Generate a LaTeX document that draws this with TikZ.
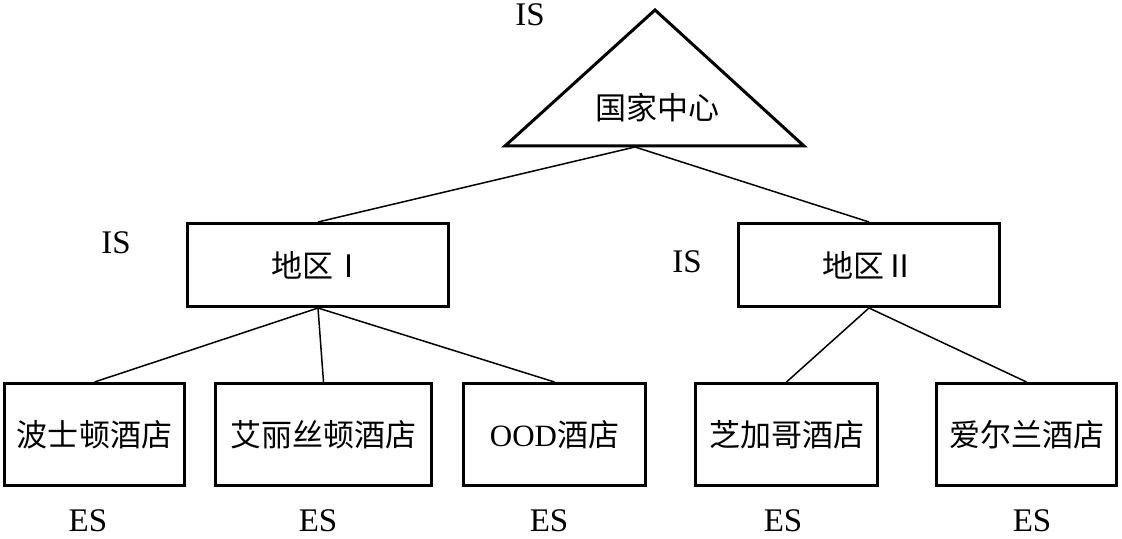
\documentclass[tikz,border=0pt]{standalone}
\usepackage{fontspec}
\setmainfont{Liberation Serif}
\newfontfamily\cjk{Noto Sans CJK SC}
\usetikzlibrary{positioning}

\begin{document}
\begin{tikzpicture}[
    x=0.5pt, y=-0.5pt,
    box/.style={draw, line width=1.5pt, inner sep=0pt, font=\fontsize{15.5}{18}\selectfont\cjk},
    region/.style={box, minimum width=130.5pt, minimum height=41.5pt},
    hotel/.style={box, minimum height=51pt},
    tag/.style={font=\fontsize{16.5}{19}\selectfont, inner sep=0pt},
    link/.style={line width=0.75pt},
]
\useasboundingbox (0,0) rectangle (1122,539);

% =============================================================================
% National centre (triangle)
% =============================================================================
\coordinate (apex) at (655,10);
\coordinate (bl) at (505,146);
\coordinate (br) at (804,146);
\draw[line width=1.5pt, line join=miter] (apex) -- (bl) -- (br) -- cycle;
\node[font=\fontsize{15.5}{18}\selectfont\cjk] (nc) at (657,108) {国家中心};
\coordinate (ncb) at (635,147);
\node[tag] (is0) at (530,15) {IS};

% =============================================================================
% Regions
% =============================================================================
\node[region] (r1) at (318,265) {地区Ⅰ};
\node[region] (r2) at (869,265) {地区Ⅱ};
\node[tag] (is1) at (116,243) {IS};
\node[tag] (is2) at (687,261.5) {IS};

\draw[link] (ncb) -- (r1.north);
\draw[link] (ncb) -- (r2.north);

% =============================================================================
% Hotels
% =============================================================================
\node[hotel, minimum width=90pt] (h1) at (94.5,434.5) {波士顿酒店};
\node[hotel, minimum width=108pt] (h2) at (323.5,434.5) {艾丽丝顿酒店};
\node[hotel, minimum width=91pt] (h3) at (554.5,434.5) {{\rmfamily OOD}酒店};
\node[hotel, minimum width=91pt] (h4) at (786.5,434.5) {芝加哥酒店};
\node[hotel, minimum width=90pt] (h5) at (1026.5,434.5) {爱尔兰酒店};

\draw[link] (r1.south) -- (h1.north);
\draw[link] (r1.south) -- (h2.north);
\draw[link] (r1.south) -- (h3.north);
\draw[link] (r2.south) -- (h4.north);
\draw[link] (r2.south) -- (h5.north);

% ES labels
\node[tag] (es1) at (88,521) {ES};
\node[tag] (es2) at (318,521) {ES};
\node[tag] (es3) at (549,521) {ES};
\node[tag] (es4) at (783,521) {ES};
\node[tag] (es5) at (1032,521) {ES};

\end{tikzpicture}
\end{document}
